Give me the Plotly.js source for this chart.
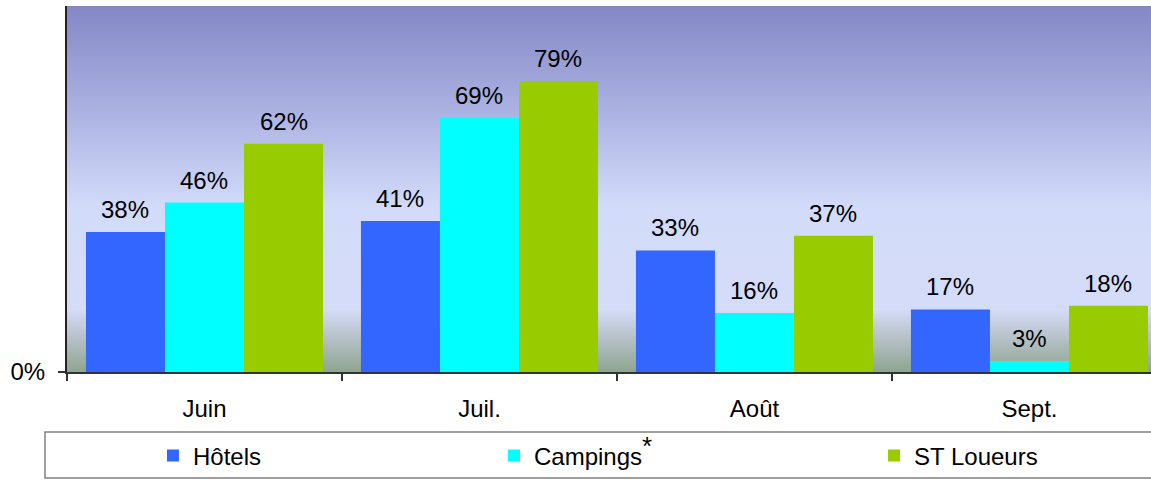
<!DOCTYPE html>
<html>
<head>
<meta charset="utf-8">
<script src="https://cdn.plot.ly/plotly-3.0.1.min.js"></script>
<style>html,body{margin:0;padding:0;background:#fff;}#chart{width:1151px;height:480px;}</style>
</head>
<body>
<div id="chart"></div>
<script>
const categories = ["Juin", "Juil.", "Août", "Sept."];
const seriesNames = ["Hôtels", "Campings<sup><span style=\"font-size:26px\">*</span></sup>", "ST Loueurs"];
const hotels = [38, 41, 33, 17];
const campings = [46, 69, 16, 3];
const stLoueurs = [62, 79, 37, 18];
const colors = ["#3366FF", "#00FFFF", "#99CC00"];

const seriesValues = [hotels, campings, stLoueurs];
const xIdx = categories.map((c, i) => i);
const bargap = 0.138;
const barW = (1 - bargap) / 3;
const FONT = '"Liberation Sans", Arial, sans-serif';
const legendIds = ["legend", "legend2", "legend3"];
const legendX = [0.0793, 0.3939, 0.7445];

const traces = seriesValues.map((vals, k) => ({
  type: "bar",
  name: seriesNames[k],
  x: xIdx,
  y: vals,
  legend: legendIds[k],
  marker: { color: colors[k], line: { width: 0 } },
  hoverinfo: "none"
}));

const annotations = [];
seriesValues.forEach((vals, k) => {
  vals.forEach((v, i) => {
    annotations.push({
      x: i + (k - 1) * barW, y: v, xref: "x", yref: "y",
      text: v + "%", showarrow: false, yanchor: "bottom", yshift: 7,
      font: { family: FONT, size: 24, color: "#000" }
    });
  });
});

const gradSvg = '<svg xmlns="http://www.w3.org/2000/svg" width="100" height="100" preserveAspectRatio="none">' +
  '<defs><linearGradient id="g" x1="0" y1="0" x2="0" y2="1">' +
  '<stop offset="0" stop-color="#8487c5"/>' +
  '<stop offset="0.3" stop-color="#adb4e3"/>' +
  '<stop offset="0.55" stop-color="#d2dbf9"/>' +
  '<stop offset="0.83" stop-color="#d4dcf8"/>' +
  '<stop offset="0.91" stop-color="#b5c0c6"/>' +
  '<stop offset="1" stop-color="#8ea58e"/>' +
  '</linearGradient></defs><rect width="100" height="100" fill="url(#g)"/></svg>';
const gradSrc = "data:image/svg+xml;base64," + btoa(gradSvg);

function legendCfg(x) {
  return {
    orientation: "h",
    x: x, xanchor: "left",
    y: -0.2295, yanchor: "middle",
    bgcolor: "rgba(0,0,0,0)", borderwidth: 0,
    font: { family: FONT, size: 24, color: "#000" }
  };
}

const layout = {
  width: 1151, height: 480,
  margin: { l: 67, r: 0, t: 6, b: 108, pad: 0, autoexpand: false },
  paper_bgcolor: "#ffffff",
  plot_bgcolor: "rgba(0,0,0,0)",
  barmode: "group",
  bargap: bargap,
  bargroupgap: 0,
  font: { family: FONT, size: 24, color: "#000" },
  images: [{
    source: gradSrc, xref: "paper", yref: "paper", x: 0, y: 1,
    sizex: 1, sizey: 1, sizing: "stretch", layer: "below",
    xanchor: "left", yanchor: "top"
  }],
  xaxis: {
    range: [-0.5, 3.442],
    tickvals: xIdx, ticktext: categories,
    ticks: "", showgrid: false, zeroline: false,
    showline: true, linecolor: "#333", linewidth: 2,
    tickfont: { family: FONT, size: 24, color: "#000" },
    ticklabelstandoff: 14,
    minor: { tick0: -0.5, dtick: 1, ticks: "outside", ticklen: 7, tickcolor: "#333", tickwidth: 1.5, showgrid: false },
    fixedrange: true
  },
  yaxis: {
    range: [0, 99.4],
    tickvals: [0], ticktext: ["0%"],
    ticks: "outside", ticklen: 7, tickcolor: "#333", tickwidth: 1.5,
    showgrid: false, zeroline: false,
    showline: true, linecolor: "#222", linewidth: 2,
    tickfont: { family: FONT, size: 24, color: "#000" },
    ticklabelstandoff: 8,
    fixedrange: true
  },
  showlegend: true,
  legend: legendCfg(legendX[0]),
  legend2: legendCfg(legendX[1]),
  legend3: legendCfg(legendX[2]),
  shapes: [{
    type: "rect", xref: "paper", yref: "paper",
    x0: -0.0203, x1: 1.01, y0: -0.164, y1: -0.2896,
    line: { color: "#808080", width: 1.5 }, fillcolor: "rgba(0,0,0,0)"
  }],
  annotations: annotations
};

Plotly.newPlot("chart", traces, layout, { displayModeBar: false, staticPlot: true });
</script>
</body>
</html>
